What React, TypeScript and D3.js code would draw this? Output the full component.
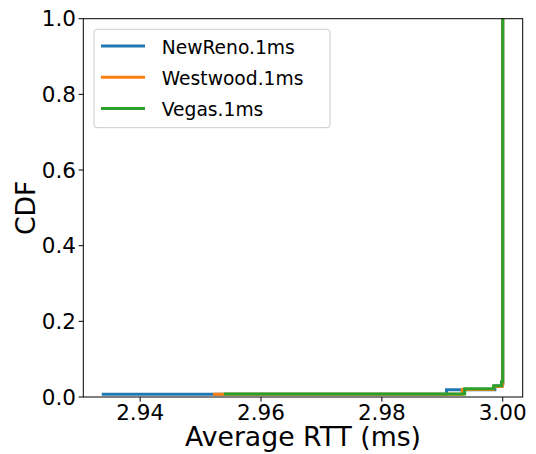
import React from "react";
import * as d3 from "d3";

const seriesNames = ["NewReno.1ms", "Westwood.1ms", "Vegas.1ms"];
const seriesColors = ["#1f77b4", "#ff7f0e", "#2ca02c"];

// step CDF points (x = average RTT in ms, y = CDF)
const newRenoX = [2.9339, 2.9907, 2.9987, 2.9999, 3.0];
const newRenoY = [0.007, 0.019, 0.029, 0.035, 1.0];
const westwoodX = [2.9523, 2.9933, 2.9985, 2.9999, 3.0];
const westwoodY = [0.007, 0.02, 0.028, 0.035, 1.0];
const vegasX = [2.9541, 2.9937, 2.9985, 2.9998, 3.0];
const vegasY = [0.008, 0.022, 0.03, 0.04, 1.0];

const xTicks = [2.94, 2.96, 2.98, 3.0];
const yTicks = [0, 0.2, 0.4, 0.6, 0.8, 1.0];

const W = 536;
const H = 454;
const left = 83.3;
const right = 522.7;
const top = 18.7;
const bottom = 397;
const FONT = "DejaVu Sans, sans-serif";

export default function App() {
  const xs = [newRenoX, westwoodX, vegasX];
  const ys = [newRenoY, westwoodY, vegasY];
  const allX = xs.flat();
  const xmin = d3.min(allX) as number;
  const xmax = d3.max(allX) as number;
  const pad = (xmax - xmin) * 0.05;
  const x = d3.scaleLinear().domain([xmin - pad, xmax + pad]).range([left, right]);
  const y = d3.scaleLinear().domain([0, 1]).range([bottom, top]);
  const line = d3
    .line<[number, number]>()
    .x((d) => x(d[0]))
    .y((d) => y(d[1]))
    .curve(d3.curveStepAfter);

  return (
    <svg
      width={W}
      height={H}
      style={{ position: "absolute", left: 0, top: 0, background: "#fff" }}
      fontFamily={FONT}
    >
      <defs>
        <clipPath id="plot">
          <rect x={left} y={top} width={right - left} height={bottom - top} />
        </clipPath>
      </defs>
      <g clipPath="url(#plot)">
        {xs.map((xv, i) => {
          const pts = xv.map((v, j) => [v, ys[i][j]] as [number, number]);
          return (
            <path
              key={i}
              d={line(pts) || ""}
              fill="none"
              stroke={seriesColors[i]}
              strokeWidth={3}
              strokeLinejoin="miter"
              strokeLinecap="square"
            />
          );
        })}
      </g>
      {/* spines */}
      <rect x={left} y={top} width={right - left} height={bottom - top} fill="none" stroke="#000" strokeWidth={1} />
      {/* x ticks */}
      {xTicks.map((t) => (
        <g key={t}>
          <line x1={x(t)} x2={x(t)} y1={bottom} y2={bottom + 4.7} stroke="#000" strokeWidth={1} />
          <text x={x(t)} y={420} textAnchor="middle" fontSize={21.5} fill="#000">
            {t.toFixed(2)}
          </text>
        </g>
      ))}
      {/* y ticks */}
      {yTicks.map((t) => (
        <g key={t}>
          <line x1={left - 4.7} x2={left} y1={y(t)} y2={y(t)} stroke="#000" strokeWidth={1} />
          <text x={76} y={y(t)} dy="0.36em" textAnchor="end" fontSize={21.5} fill="#000">
            {t.toFixed(1)}
          </text>
        </g>
      ))}
      <text x={(left + right) / 2} y={446} textAnchor="middle" fontSize={26.7} fill="#000">
        Average RTT (ms)
      </text>
      <text transform={`translate(35, ${(top + bottom) / 2}) rotate(-90)`} textAnchor="middle" fontSize={26.7} fill="#000">
        CDF
      </text>
      {/* legend */}
      <rect x={94} y={29.3} width={236} height={98.4} rx={3} fill="#fff" fillOpacity={0.8} stroke="#cccccc" strokeWidth={1} />
      {seriesNames.map((name, i) => {
        const ly = 46 + i * 31.2;
        return (
          <g key={name}>
            <line x1={101} x2={145} y1={ly} y2={ly} stroke={seriesColors[i]} strokeWidth={3} />
            <text x={161.7} y={ly + 7.5} fontSize={18.7} fill="#000">
              {name}
            </text>
          </g>
        );
      })}
    </svg>
  );
}
